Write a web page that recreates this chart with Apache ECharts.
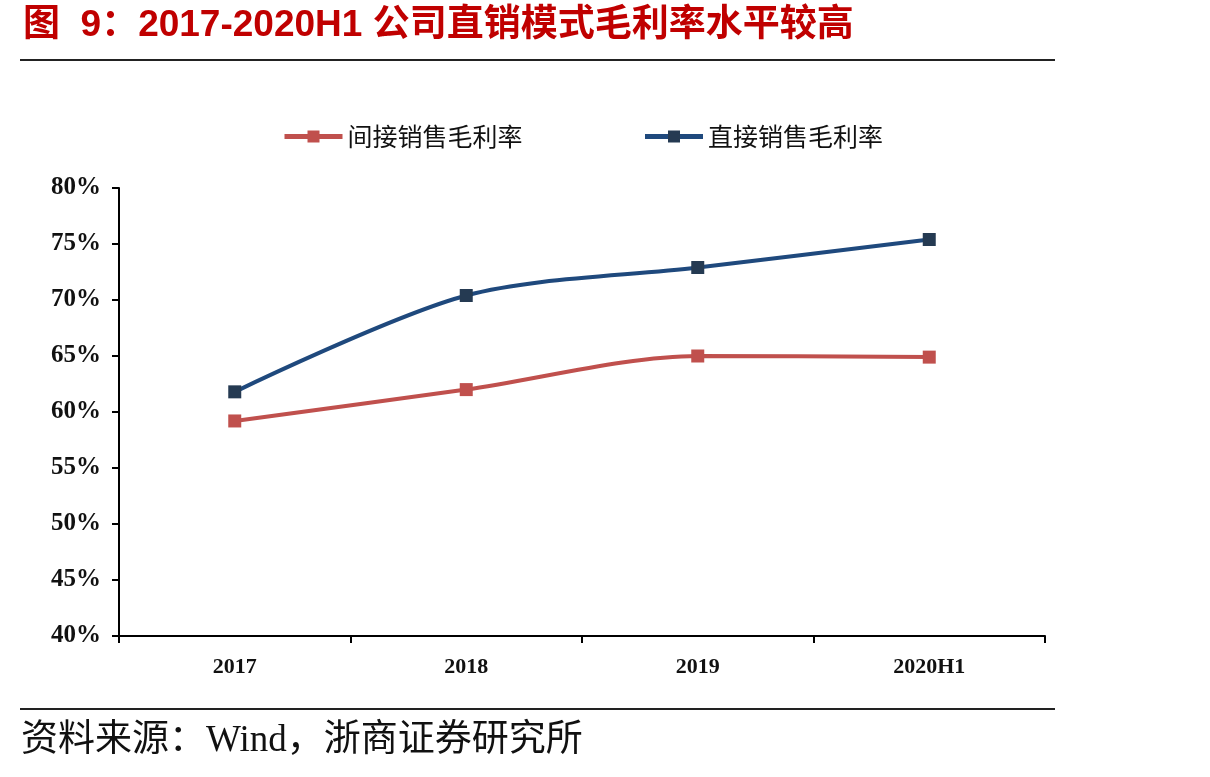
<!DOCTYPE html>
<html>
<head>
<meta charset="utf-8">
<script src="https://cdn.jsdelivr.net/npm/echarts@6/dist/echarts.min.js"></script>
<style>
  html, body { margin: 0; padding: 0; background: #fff; }
  #main { width: 1210px; height: 777px; }
</style>
</head>
<body>
<div id="main"></div>
<script>
var categories = ['2017', '2018', '2019', '2020H1'];
var indirectRate = [59.2, 62.0, 65.0, 64.9];
var directRate = [61.8, 70.4, 72.9, 75.4];
var seriesNames = ['间接销售毛利率', '直接销售毛利率'];

var myChart = echarts.init(document.getElementById('main'));
var serif = '"Liberation Serif", "Times New Roman", serif';
var cjk = '"Noto Sans CJK SC", sans-serif';

var option = {
    animation: false,
    title: {
        text: '图  9：2017-2020H1 公司直销模式毛利率水平较高',
        left: 18,
        top: 2,
        textStyle: {
            color: '#C00000',
            fontSize: 37,
            fontWeight: 'bold',
            fontFamily: '"Liberation Sans Narrow", "Liberation Sans", ' + cjk
        }
    },
    graphic: [
        // 标题下横线
        { type: 'rect', shape: { x: 20, y: 59, width: 1035, height: 2 }, style: { fill: '#222' } },
        // 底部横线
        { type: 'rect', shape: { x: 20, y: 708, width: 1035, height: 2 }, style: { fill: '#222' } },
        {
            type: 'text', left: 21, top: 723,
            style: {
                text: '资料来源：Wind，浙商证券研究所',
                fill: '#111',
                font: '37px ' + serif + ', "Noto Sans CJK SC"'
            }
        }
    ],
    legend: {
        data: seriesNames,
        left: 277,
        top: 119,
        itemWidth: 58,
        itemHeight: 15,
        itemGap: 120,
        lineStyle: { width: 5 },
        textStyle: { fontSize: 25, color: '#111', fontFamily: cjk }
    },
    grid: {
        left: 119,
        right: 165,
        top: 188,
        bottom: 141
    },
    xAxis: {
        type: 'category',
        data: categories,
        boundaryGap: true,
        axisLine: { lineStyle: { color: '#000', width: 2 } },
        axisTick: { show: true, length: 7, lineStyle: { color: '#000', width: 2 } },
        axisLabel: {
            margin: 20,
            color: '#111',
            fontSize: 22,
            fontWeight: 'bold',
            fontFamily: serif
        }
    },
    yAxis: {
        type: 'value',
        min: 40,
        max: 80,
        interval: 5,
        axisLine: { show: true, lineStyle: { color: '#000', width: 2 } },
        axisTick: { show: true, length: 7, lineStyle: { color: '#000', width: 2 } },
        splitLine: { show: false },
        axisLabel: {
            margin: 18,
            color: '#111',
            fontSize: 25,
            fontWeight: 'bold',
            fontFamily: serif,
            formatter: '{value}%'
        }
    },
    series: [{
        name: seriesNames[0],
        type: 'line',
        smooth: 0.3,
        data: indirectRate,
        symbol: 'rect',
        symbolSize: 13,
        lineStyle: { color: '#C0504D', width: 4 },
        itemStyle: { color: '#C0504D', borderWidth: 0 }
    }, {
        name: seriesNames[1],
        type: 'line',
        smooth: 0.3,
        data: directRate,
        symbol: 'rect',
        symbolSize: 13,
        lineStyle: { color: '#1F497D', width: 4 },
        itemStyle: { color: '#253A52', borderWidth: 0 }
    }]
};
myChart.setOption(option);
</script>
</body>
</html>
